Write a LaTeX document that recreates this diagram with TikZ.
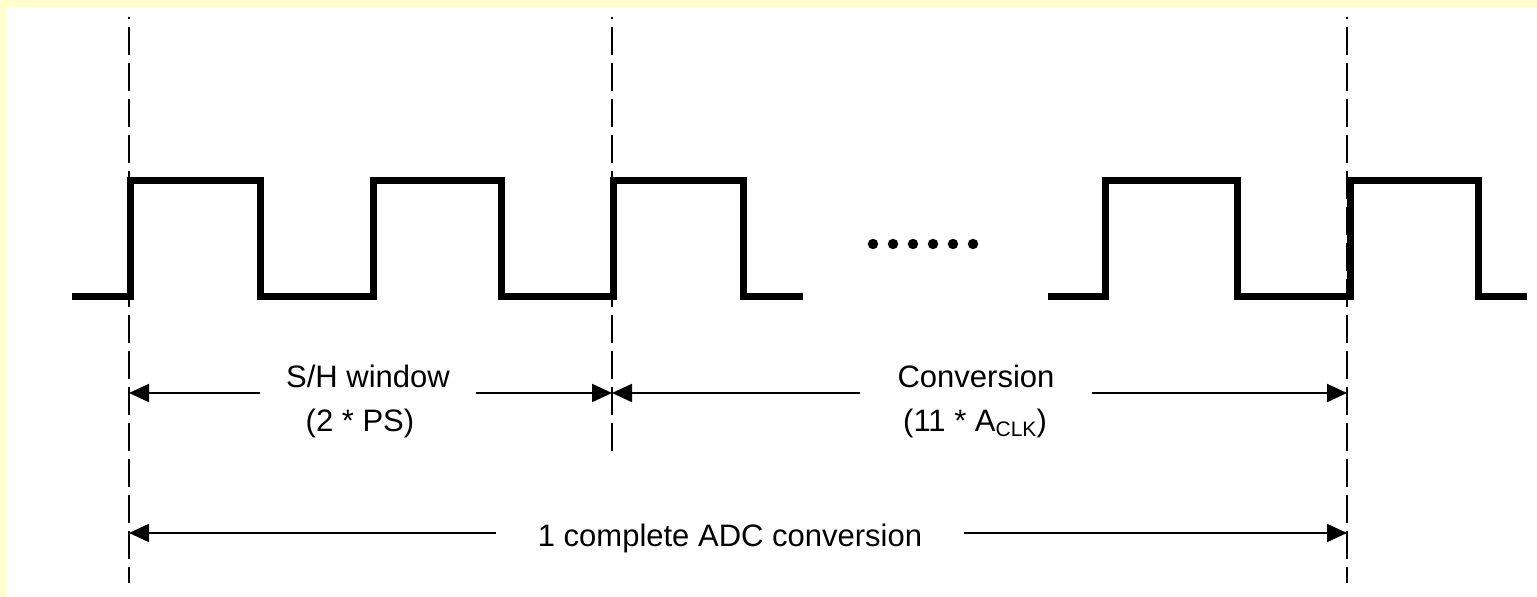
\documentclass[tikz,border=0pt]{standalone}
\usepackage{fontspec}
\setmainfont{Liberation Sans}
\usetikzlibrary{arrows.meta}
\definecolor{pagebg}{RGB}{255,255,204}
\begin{document}
\begin{tikzpicture}[x=0.5pt,y=-0.5pt,
  signal/.style={line width=3.5pt, line join=miter},
  guide/.style={line width=1.2pt, dash pattern=on 14pt off 4pt, dash phase=13pt},
  dimline/.style={line width=1pt, -{Triangle[length=10pt,width=9pt]}},
  lbl/.style={font=\fontsize{15.5}{18}\selectfont, inner sep=0pt, anchor=base}]
  % page background with a pale frame on the top and left
  \fill[pagebg] (0,0) rectangle (1537,597);
  \fill[white] (6,7) rectangle (1537,597);
  \useasboundingbox (0,0) rectangle (1537,597);

  % clock waveform
  \draw[signal] (72,297) -- (130,297) -- (130,181) -- (260,181) -- (260,297)
    -- (373,297) -- (373,181) -- (501,181) -- (501,297) -- (613,297)
    -- (613,181) -- (743,181) -- (743,297) -- (803,297);
  \draw[signal] (1048,297) -- (1105,297) -- (1105,181) -- (1237,181) -- (1237,297)
    -- (1350,297) -- (1350,181) -- (1478,181) -- (1478,297) -- (1527,297);

  % ellipsis between the two waveform parts
  \foreach \i in {0,...,5} \fill (873+20*\i,244) circle (2.6pt);

  % dashed guide lines
  \coordinate (g1t) at (129,17);  \coordinate (g1b) at (129,583);
  \coordinate (g2t) at (612,17);  \coordinate (g2b) at (612,451);
  \coordinate (g3t) at (1347,17); \coordinate (g3b) at (1347,583);
  \draw[guide] (g1t) -- (g1b);
  \draw[guide] (g2t) -- (g2b);
  \draw[guide] (g3t) -- (g3b);

  % dimension end points on the guides
  \coordinate (a1) at (129,393);
  \coordinate (a2) at (612,393);
  \coordinate (a3) at (1347,393);
  \coordinate (b1) at (129,533);
  \coordinate (b3) at (1347,533);

  % labels
  \node[lbl, minimum width=108pt] (shw) at (368,388) {S/H window};
  \node[lbl] (shps) at (360,432) {(2 * PS)};
  \node[lbl, minimum width=116pt] (conv) at (976,388) {Conversion};
  \node[lbl] (convclk) at (975,432) {(11 * A\raisebox{-0.25ex}{\fontsize{10.5}{12}\selectfont CLK})};
  \node[lbl, minimum width=234pt] (full) at (730,547) {1 complete ADC conversion};

  % dimension arrows
  \draw[dimline] (shw.west |- a1) -- (a1);
  \draw[dimline] (shw.east |- a1) -- (a2);
  \draw[dimline] (conv.west |- a2) -- (a2);
  \draw[dimline] (conv.east |- a2) -- (a3);
  \draw[dimline] (full.west |- b1) -- (b1);
  \draw[dimline] (full.east |- b1) -- (b3);
\end{tikzpicture}
\end{document}
